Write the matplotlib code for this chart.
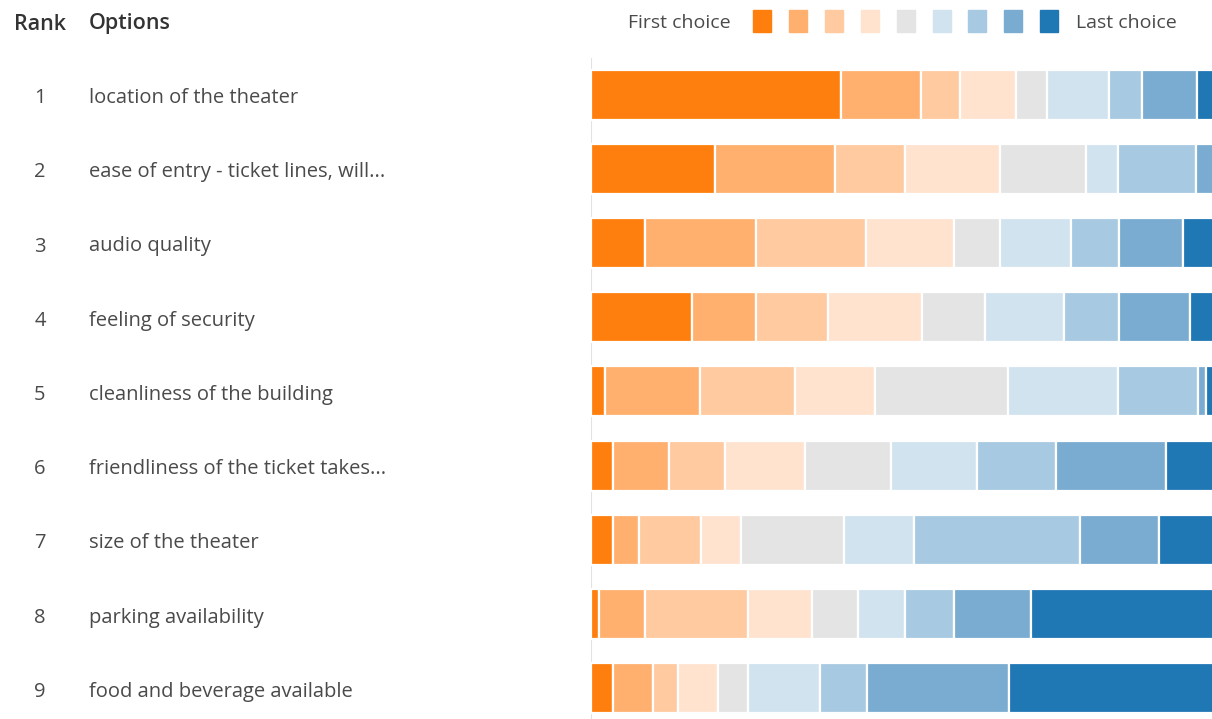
import numpy as np
import matplotlib
matplotlib.use("Agg")
from matplotlib import pyplot as plt
from matplotlib.patches import Rectangle

plt.rcParams["font.family"] = ["Open Sans", "DejaVu Sans"]

# ranking data: share of respondents (%) per choice level, rows in rank order
ranks = [1, 2, 3, 4, 5, 6, 7, 8, 9]
options = [
    "location of the theater",
    "ease of entry - ticket lines, will...",
    "audio quality",
    "feeling of security",
    "cleanliness of the building",
    "friendliness of the ticket takes...",
    "size of the theater",
    "parking availability",
    "food and beverage available",
]
choice_1 = [36.8, 18.2, 8.0, 14.9, 2.1, 3.3, 3.3, 1.2, 3.3]
choice_2 = [11.7, 17.6, 16.2, 9.3, 13.9, 8.2, 3.7, 6.8, 5.8]
choice_3 = [5.8, 10.3, 16.2, 10.6, 14.0, 8.2, 9.2, 15.1, 3.7]
choice_4 = [8.2, 14.0, 12.9, 13.8, 11.7, 11.7, 5.9, 9.4, 5.9]
choice_5 = [4.5, 12.7, 6.9, 9.3, 19.6, 12.7, 15.1, 6.8, 4.4]
choice_6 = [9.2, 4.7, 10.3, 11.6, 16.2, 12.6, 10.3, 6.9, 10.6]
choice_7 = [4.8, 11.5, 7.1, 8.2, 11.7, 11.7, 24.4, 7.1, 6.9]
choice_8 = [8.1, 5.9, 9.5, 10.3, 1.2, 16.2, 11.6, 11.4, 20.9]
choice_9 = [10.9, 5.1, 12.9, 12.0, 9.6, 15.4, 16.5, 35.3, 38.5]

colors = ["#ff7f0e", "#ffb06f", "#ffca9f", "#ffe3cf", "#e4e4e4",
          "#d2e3f0", "#a7c9e1", "#7aacd2", "#1f77b4"]

levels = [choice_1, choice_2, choice_3, choice_4, choice_5,
          choice_6, choice_7, choice_8, choice_9]

fig = plt.figure(figsize=(12.12, 7.19), dpi=100)
W, H = 1212.0, 719.0
ax = fig.add_axes([591 / W, 0, 1 - 591 / W, 1 - 58 / H])

left = np.zeros(len(ranks))
for vals, c in zip(levels, colors):
    vals = np.array(vals)
    ax.barh(ranks, vals, left=left, height=0.675, color=c,
            edgecolor="white", linewidth=1.6)
    left += vals

ax.set_xlim(0, 91.3)
ax.set_ylim(9.42, 0.5)
ax.axis("off")
ax.axvline(0, color="#e2e2e2", linewidth=1.5, zorder=0)

# row labels
txt_color = "#4a4a4a"
for r, opt in zip(ranks, options):
    y = 1 - (98 + 74.25 * (r - 1)) / H
    fig.text(40 / W, y, str(r), ha="center", va="center",
             fontsize=14.5, color=txt_color)
    fig.text(89 / W, y, opt, ha="left", va="center",
             fontsize=14.5, color=txt_color)

# headers
hy = 1 - 24 / H
fig.text(14 / W, hy, "Rank", ha="left", va="center", fontsize=15.5,
         color="#333333", fontweight="semibold")
fig.text(89 / W, hy, "Options", ha="left", va="center", fontsize=15.5,
         color="#333333", fontweight="semibold")

# legend
ly = 1 - 23 / H
fig.text(731 / W, ly, "First choice", ha="right", va="center",
         fontsize=14, color=txt_color)
for i, c in enumerate(colors):
    x0 = 753 + 35.9 * i
    fig.patches.append(Rectangle((x0 / W, 1 - 32 / H), 18 / W, 22 / H,
                                 transform=fig.transFigure, color=c))
fig.text(1076 / W, ly, "Last choice", ha="left", va="center",
         fontsize=14, color=txt_color)

fig.savefig("out.png", dpi=100)
